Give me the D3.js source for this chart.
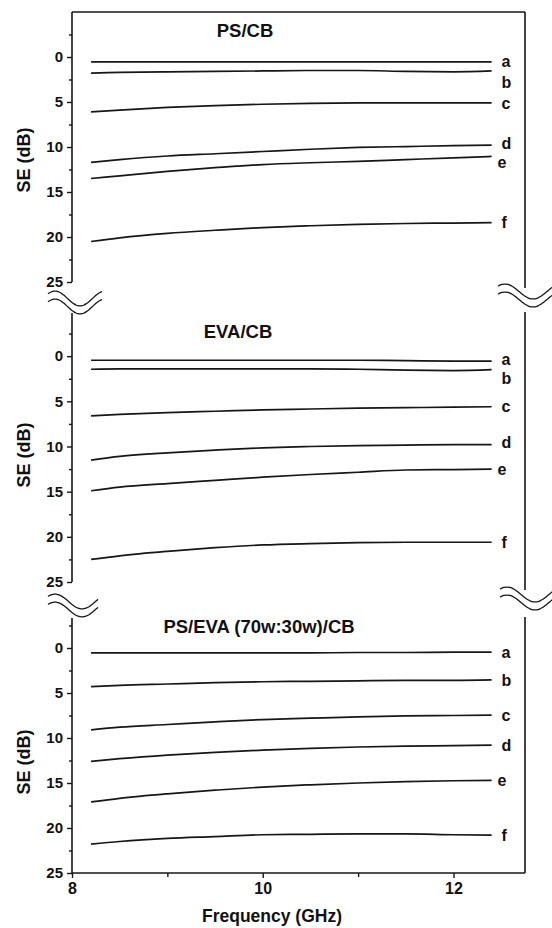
<!DOCTYPE html>
<html>
<head>
<meta charset="utf-8">
<script src="https://cdn.jsdelivr.net/npm/d3@7"></script>
<style>
  body { margin: 0; background: #fff; }
  text { font-family: "Liberation Sans", Arial, sans-serif; font-weight: bold; fill: #111; }
</style>
</head>
<body>
<svg id="chart" width="552" height="928"></svg>
<script>
// Frequency points (GHz) where the curves were read
const freq = [8.2, 8.5, 9.0, 9.5, 10.0, 10.5, 11.0, 11.5, 12.0, 12.4]
const seriesNames = ["a", "b", "c", "d", "e", "f"]
const panelTitles = ["PS/CB", "EVA/CB", "PS/EVA (70w:30w)/CB"]

// SE (dB) values, one row per sample a..f
const psCB = [
    [0.55, 0.55, 0.55, 0.55, 0.55, 0.55, 0.55, 0.55, 0.55, 0.55],
    [1.8, 1.7, 1.65, 1.6, 1.55, 1.5, 1.5, 1.6, 1.65, 1.55],
    [6.1, 5.9, 5.6, 5.4, 5.25, 5.15, 5.1, 5.1, 5.1, 5.1],
    [11.7, 11.4, 11.0, 10.75, 10.5, 10.25, 10.05, 9.95, 9.85, 9.8],
    [13.5, 13.2, 12.7, 12.3, 11.95, 11.75, 11.6, 11.4, 11.2, 11.05],
    [20.5, 20.1, 19.6, 19.25, 18.95, 18.75, 18.6, 18.5, 18.45, 18.4]
]
const evaCB = [
    [0.45, 0.45, 0.45, 0.45, 0.45, 0.45, 0.45, 0.5, 0.55, 0.55],
    [1.45, 1.4, 1.4, 1.4, 1.4, 1.4, 1.45, 1.55, 1.6, 1.5],
    [6.6, 6.45, 6.25, 6.1, 5.95, 5.85, 5.75, 5.7, 5.65, 5.6],
    [11.5, 11.1, 10.7, 10.4, 10.15, 10.0, 9.9, 9.85, 9.8, 9.8],
    [14.9, 14.5, 14.1, 13.75, 13.4, 13.1, 12.85, 12.6, 12.55, 12.5],
    [22.5, 22.1, 21.6, 21.2, 20.9, 20.75, 20.65, 20.6, 20.6, 20.6]
]
const psEvaCB = [
    [0.55, 0.55, 0.55, 0.55, 0.55, 0.55, 0.5, 0.5, 0.45, 0.45],
    [4.3, 4.15, 4.0, 3.85, 3.75, 3.7, 3.65, 3.6, 3.6, 3.55],
    [9.1, 8.8, 8.5, 8.2, 7.95, 7.8, 7.65, 7.55, 7.5, 7.45],
    [12.6, 12.3, 11.9, 11.6, 11.35, 11.15, 11.0, 10.9, 10.85, 10.8],
    [17.1, 16.7, 16.2, 15.8, 15.45, 15.2, 15.0, 14.85, 14.75, 14.7],
    [21.8, 21.5, 21.15, 20.95, 20.75, 20.7, 20.65, 20.65, 20.75, 20.8]
]
const panelData = [psCB, evaCB, psEvaCB]

const yMajor = [0, 5, 10, 15, 20, 25]
const yMinor = [-2.5, 2.5, 7.5, 12.5, 17.5, 22.5]
const xMajor = [8, 10, 12]
const xMinor = [9, 11]

// Layout of the three stacked panels
const layout = [
    { range: [12, 282], left: [12, 282], right: [12, 288], titleX: 245, titleY: 37, labelY: 160, nudge: { a: -1, b: 11, d: -2, e: 6 } },
    { range: [311, 582], left: [313, 582], right: [312, 590], titleX: 238, titleY: 338, labelY: 455, nudge: { a: -2, b: 9, d: -2 } },
    { range: [603, 873], left: [618, 873], right: [617, 873], titleX: 259, titleY: 633, labelY: 762, nudge: {} }
]
const breaks = [
    { x0: 48, w: 54, cy: 302.5, peak: 7, period: 50 },
    { x0: 498, w: 56, cy: 295.5, peak: 7, period: 56 },
    { x0: 48, w: 50, cy: 605.5, peak: 7, period: 54 },
    { x0: 500, w: 54, cy: 598.5, peak: 7, period: 56 }
]

const svg = d3.select("#chart")
const x = d3.scaleLinear().domain([8, 12.75]).range([72, 525])
const ink = "#161616"

layout.forEach((p, i) => {
    const g = svg.append("g").attr("class", "panel")
    const y = d3.scaleLinear().domain([-5, 25]).range(p.range)

    // Left and right frame lines
    g.append("line").attr("x1", x(8)).attr("x2", x(8))
        .attr("y1", p.left[0]).attr("y2", p.left[1])
        .attr("stroke", ink).attr("stroke-width", 1.6)
    g.append("line").attr("x1", x(12.75)).attr("x2", x(12.75))
        .attr("y1", p.right[0]).attr("y2", p.right[1])
        .attr("stroke", ink).attr("stroke-width", 1.6)
    if (i == 0) {
        g.append("line").attr("x1", x(8)).attr("x2", x(12.75))
            .attr("y1", p.range[0]).attr("y2", p.range[0])
            .attr("stroke", ink).attr("stroke-width", 1.6)
    }

    // Y axis ticks
    const yAxis = d3.axisLeft(y).tickValues(yMajor).tickSize(5).tickPadding(4)
    const ya = g.append("g").attr("transform", `translate(${x(8)},0)`).call(yAxis)
    ya.select(".domain").remove()
    ya.selectAll("line").attr("stroke", ink).attr("stroke-width", 1.4)
    ya.selectAll("text").attr("font-size", 15).attr("fill", ink)
        .style("font-family", '"Liberation Sans", Arial, sans-serif').style("font-weight", "bold")
    const ym = g.append("g").attr("transform", `translate(${x(8)},0)`)
        .call(d3.axisLeft(y).tickValues(yMinor).tickSize(3).tickFormat(""))
    ym.select(".domain").remove()
    ym.selectAll("line").attr("stroke", ink).attr("stroke-width", 1.4)

    // Y axis title
    g.append("text")
        .attr("transform", `translate(30,${p.labelY}) rotate(-90)`)
        .attr("text-anchor", "middle").attr("font-size", 18)
        .text("SE (dB)")

    // Panel title
    g.append("text").attr("x", p.titleX).attr("y", p.titleY)
        .attr("text-anchor", "middle").attr("font-size", 18.5)
        .text(panelTitles[i])

    // Curves
    const line = d3.line()
        .x((d, k) => x(freq[k]))
        .y(d => y(d))
        .curve(d3.curveMonotoneX)
    panelData[i].forEach((vals, s) => {
        g.append("path").attr("d", line(vals))
            .attr("fill", "none").attr("stroke", ink).attr("stroke-width", 1.7)
        const name = seriesNames[s]
        g.append("text")
            .attr("x", x(freq[freq.length - 1]) + (name == "e" ? 6 : 10))
            .attr("y", y(vals[vals.length - 1]) + (p.nudge[name] || 0))
            .attr("dy", "0.35em").attr("font-size", 16)
            .text(name)
    })

    // X axis only on the bottom panel
    if (i == layout.length - 1) {
        g.append("line").attr("x1", x(8)).attr("x2", x(12.75))
            .attr("y1", p.range[1]).attr("y2", p.range[1])
            .attr("stroke", ink).attr("stroke-width", 1.6)
        const xa = g.append("g").attr("transform", `translate(0,${p.range[1]})`)
            .call(d3.axisBottom(x).tickValues(xMajor).tickSize(5).tickPadding(5).tickFormat(d3.format("d")))
        xa.select(".domain").remove()
        xa.selectAll("line").attr("stroke", ink).attr("stroke-width", 1.4)
        xa.selectAll("text").attr("font-size", 16).attr("fill", ink)
            .style("font-family", '"Liberation Sans", Arial, sans-serif').style("font-weight", "bold")
        const xm = g.append("g").attr("transform", `translate(0,${p.range[1]})`)
            .call(d3.axisBottom(x).tickValues(xMinor).tickSize(4).tickFormat(""))
        xm.select(".domain").remove()
        xm.selectAll("line").attr("stroke", ink).attr("stroke-width", 1.4)

        g.append("text").attr("x", 272).attr("y", 922)
            .attr("text-anchor", "middle").attr("font-size", 17.5)
            .text("Frequency (GHz)")
    }
})

// Axis break marks (double wavy lines)
const waveLine = d3.line().curve(d3.curveBasis)
breaks.forEach(b => {
    [-4, 4].forEach(off => {
        const pts = d3.range(0, b.w + 1, 2).map(t =>
            [b.x0 + t, b.cy + off - 7.5 * Math.cos(2 * Math.PI * (t - b.peak) / b.period)])
        svg.append("path").attr("d", waveLine(pts))
            .attr("fill", "none").attr("stroke", ink).attr("stroke-width", 1.3)
    })
})
</script>
</body>
</html>
